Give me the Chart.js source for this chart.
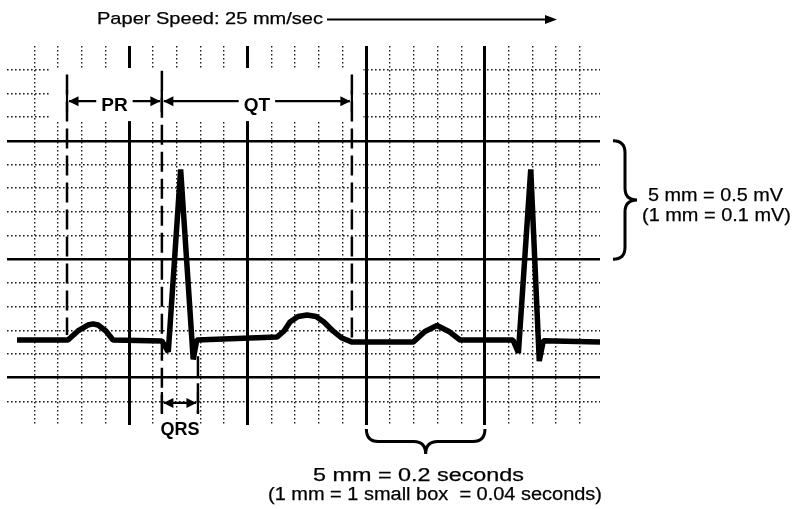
<!DOCTYPE html>
<html><head><meta charset="utf-8">
<script src="https://cdn.jsdelivr.net/npm/chart.js@4.4.0/dist/chart.umd.min.js"></script>
<style>html,body{margin:0;padding:0;background:#fff}#wrap{width:797px;height:509px}</style>
</head><body><div id="wrap"><canvas id="c" width="797" height="509"></canvas></div>
<script>
// ---- data (units: small boxes / mm; x: 0.04 s per box, y: 0.1 mV per box) ----
const traceX = [0.27,2.42,2.84,3.26,3.48,3.69,4.02,4.32,6.38,6.65,7.17,7.70,7.85,11.23,11.53,11.78,12.12,12.50,12.88,13.21,13.59,13.97,14.40,16.97,17.47,17.98,18.48,18.95,21.18,21.41,21.93,22.29,22.46,24.85];
const traceY = [1.59,1.59,1.97,2.22,2.27,2.22,1.97,1.59,1.55,1.09,8.79,0.77,1.59,1.71,1.97,2.35,2.58,2.64,2.58,2.35,1.97,1.67,1.50,1.50,1.95,2.20,1.95,1.59,1.59,1.05,8.79,0.70,1.56,1.50];
const markerX      = [2.38, 6.38, 14.39, 7.90];
const markerTop    = [12.8, 12.95, 12.8, 0.9];
const markerBottom = [1.8, -1.5, 1.6, -1.5];
const intervalLabels = ['PR', 'QT', 'QRS'];
const xMinorTicks = [1,2,3,4,6,7,8,9,11,12,13,14,16,17,18,19,21,22,23,24];
const xMajorTicks = [5,10,15,20];
const yMinorTicks = [-1,1,2,3,4,6,7,8,9,11,12,13];
const yMajorTicks = [0,5,10];
const titleText = 'Paper Speed: 25 mm/sec';
const voltText = ['5 mm = 0.5 mV', '(1 mm = 0.1 mV)'];
const timeText = ['5 mm = 0.2 seconds', '(1 mm = 1 small box  = 0.04 seconds)'];

// ---- layout constants ----
const X_MIN = -0.15, X_MAX = 24.85, Y_MIN = -2, Y_MAX = 14;
const FONT = '"Liberation Sans", Arial, Helvetica, sans-serif';

function setTicks(arr){ return s => { s.ticks = arr.map(v => ({value: v})); }; }

function fitText(ctx, str, left, right, baseline, size, bold){
  ctx.save();
  ctx.font = (bold ? 'bold ' : '') + size + 'px ' + FONT;
  ctx.textBaseline = 'alphabetic';
  ctx.textAlign = 'left';
  const w = ctx.measureText(str).width;
  ctx.translate(left, baseline);
  ctx.scale((right - left) / w, 1);
  ctx.fillStyle = '#000';
  ctx.strokeStyle = '#000';
  ctx.lineWidth = 0.25;
  ctx.fillText(str, 0, 0);
  ctx.strokeText(str, 0, 0);
  ctx.restore();
}
function head(ctx, x, y, dir, len, half){
  ctx.beginPath();
  ctx.moveTo(x, y);
  ctx.lineTo(x - dir*len, y - half);
  ctx.lineTo(x - dir*len, y + half);
  ctx.closePath();
  ctx.fill();
}
function intervalArrow(ctx, xa, xb, y, label, size, gap){
  ctx.save();
  ctx.font = 'bold ' + size + 'px ' + FONT;
  const tw = ctx.measureText(label).width;
  ctx.restore();
  ctx.lineWidth = 2.2;
  ctx.beginPath(); ctx.moveTo(xa, y-11); ctx.lineTo(xa, y+11); ctx.moveTo(xb, y-11); ctx.lineTo(xb, y+11); ctx.stroke();
  const xm = (xa + xb) / 2;
  if (label && gap) {
    ctx.beginPath();
    ctx.moveTo(xa + 2, y); ctx.lineTo(xm - tw/2 - 5, y);
    ctx.moveTo(xm + tw/2 + 5, y); ctx.lineTo(xb - 2, y);
    ctx.stroke();
  } else {
    ctx.beginPath(); ctx.moveTo(xa + 2, y); ctx.lineTo(xb - 2, y); ctx.stroke();
  }
  head(ctx, xa + 1.5, y, -1, 10, 5);
  head(ctx, xb - 1.5, y, 1, 10, 5);
}
function braceRight(ctx, x, yTop, yBot, depth){
  const ym = (yTop + yBot) / 2, xm = x + depth*0.5, r = 12;
  ctx.beginPath();
  ctx.moveTo(x, yTop);
  ctx.quadraticCurveTo(xm, yTop, xm, yTop + r);
  ctx.lineTo(xm, ym - r);
  ctx.quadraticCurveTo(xm, ym, x + depth, ym);
  ctx.quadraticCurveTo(xm, ym, xm, ym + r);
  ctx.lineTo(xm, yBot - r);
  ctx.quadraticCurveTo(xm, yBot, x, yBot);
  ctx.stroke();
}
function braceDown(ctx, xL, xR, y, depth){
  const xm = (xL + xR) / 2, ym = y + depth*0.5, r = 12;
  ctx.beginPath();
  ctx.moveTo(xL, y);
  ctx.quadraticCurveTo(xL, ym, xL + r, ym);
  ctx.lineTo(xm - r, ym);
  ctx.quadraticCurveTo(xm, ym, xm, y + depth);
  ctx.quadraticCurveTo(xm, ym, xm + r, ym);
  ctx.lineTo(xR - r, ym);
  ctx.quadraticCurveTo(xR, ym, xR, y);
  ctx.stroke();
}

const overlay = {
  id: 'overlay',
  beforeDatasetsDraw(chart){
    const {ctx} = chart, x = chart.scales.x, y = chart.scales.y;
    // blank band behind the PR / QT labels
    const x0 = x.getPixelForValue(1.7), x1 = x.getPixelForValue(14.88);
    const y0 = y.getPixelForValue(13.07), y1 = y.getPixelForValue(10.83);
    ctx.save(); ctx.fillStyle = '#fff'; ctx.fillRect(x0, y0, x1 - x0, y1 - y0); ctx.restore();
  },
  afterDraw(chart){
    const {ctx} = chart, x = chart.scales.x, y = chart.scales.y;
    ctx.save();
    ctx.strokeStyle = '#000'; ctx.fillStyle = '#000'; ctx.lineCap = 'butt';
    // title + paper speed arrow
    fitText(ctx, titleText, 97, 323, 24, 17, false);
    ctx.lineWidth = 2;
    ctx.beginPath(); ctx.moveTo(327, 19.5); ctx.lineTo(548, 19.5); ctx.stroke();
    head(ctx, 557, 19.5, 1, 12, 4.5);
    // PR / QT / QRS arrows
    const yTop = y.getPixelForValue(11.67), yQ = y.getPixelForValue(-1.07);
    const p0 = x.getPixelForValue(markerX[0]), p1 = x.getPixelForValue(markerX[1]);
    const p2 = x.getPixelForValue(markerX[2]), p3 = x.getPixelForValue(markerX[3]);
    intervalArrow(ctx, p0, p1, yTop, intervalLabels[0], 19, true);
    intervalArrow(ctx, p1, p2, yTop, intervalLabels[1], 19, true);
    intervalArrow(ctx, p1, p3, yQ, '', 18, false);
    ctx.font = 'bold 19px ' + FONT; ctx.textAlign = 'center'; ctx.textBaseline = 'alphabetic';
    ctx.fillText(intervalLabels[0], (p0 + p1)/2, yTop + 10);
    ctx.fillText(intervalLabels[1], (p1 + p2)/2, yTop + 10);
    ctx.font = 'bold 18px ' + FONT;
    ctx.fillText(intervalLabels[2], (p1 + p3)/2, 435);
    // braces
    ctx.lineWidth = 3;
    braceRight(ctx, 613, y.getPixelForValue(10), y.getPixelForValue(5), 24);
    braceDown(ctx, x.getPixelForValue(15), x.getPixelForValue(20), 429, 25);
    // scale texts
    fitText(ctx, voltText[0], 648, 783, 201, 19, false);
    fitText(ctx, voltText[1], 642, 791, 221, 19, false);
    fitText(ctx, timeText[0], 313, 524, 481, 18, false);
    fitText(ctx, timeText[1], 268, 602, 500, 18, false);
    ctx.restore();
  }
};

const trace = traceX.map((v, i) => ({x: v, y: traceY[i]}));
const markerSets = markerX.map((v, i) => ({
  data: [{x: v, y: markerTop[i]}, {x: v, y: markerBottom[i]}],
  showLine: true, borderColor: '#000', borderWidth: 2.5, borderDash: [20, 7],
  pointRadius: 0, fill: false, tension: 0
}));

new Chart(document.getElementById('c'), {
  type: 'scatter',
  data: {
    datasets: [
      {data: trace, showLine: true, borderColor: '#000', borderWidth: 5.5, borderJoinStyle: 'bevel',
       pointRadius: 0, tension: 0, fill: false},
      ...markerSets
    ]
  },
  options: {
    responsive: false, animation: false, devicePixelRatio: 1,
    layout: {padding: {left: 7, right: 197, top: 46, bottom: 84}},
    plugins: {legend: {display: false}, tooltip: {enabled: false}},
    scales: {
      x: {type: 'linear', axis: 'x', position: 'bottom', min: X_MIN, max: X_MAX, afterBuildTicks: setTicks(xMinorTicks),
          ticks: {display: false}, grid: {color: '#1a1a1a', lineWidth: 1.4, drawTicks: false, z: -1},
          border: {display: false, dash: [1.6, 2.4]}},
      xMajor: {type: 'linear', axis: 'x', position: 'bottom', min: X_MIN, max: X_MAX, afterBuildTicks: setTicks(xMajorTicks),
          ticks: {display: false}, grid: {color: '#000', lineWidth: 3, drawTicks: false, z: -0.5},
          border: {display: false}},
      y: {type: 'linear', axis: 'y', position: 'left', min: Y_MIN, max: Y_MAX, afterBuildTicks: setTicks(yMinorTicks),
          ticks: {display: false}, grid: {color: '#1a1a1a', lineWidth: 1.4, drawTicks: false, z: -1},
          border: {display: false, dash: [1.6, 2.4]}},
      yMajor: {type: 'linear', axis: 'y', position: 'left', min: Y_MIN, max: Y_MAX, afterBuildTicks: setTicks(yMajorTicks),
          ticks: {display: false}, grid: {color: '#000', lineWidth: 2.5, drawTicks: false, z: -0.5},
          border: {display: false}}
    }
  },
  plugins: [overlay]
});
</script>
</body></html>
